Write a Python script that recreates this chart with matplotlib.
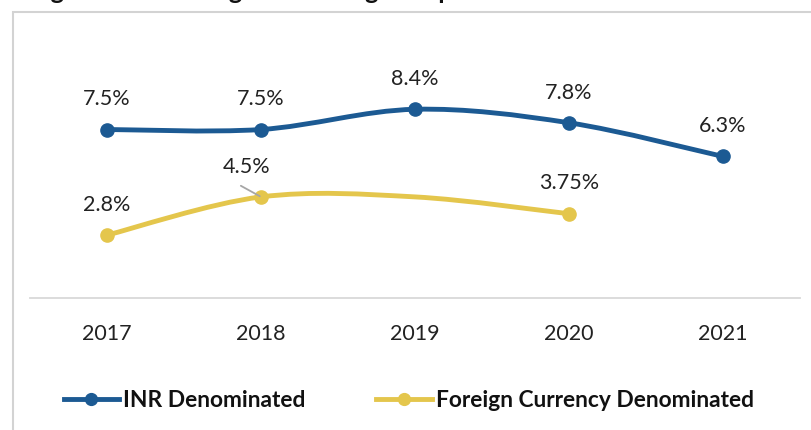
import numpy as np
import matplotlib
matplotlib.use("Agg")
import matplotlib.pyplot as plt
from matplotlib.path import Path
from matplotlib.patches import PathPatch, Rectangle
from matplotlib.lines import Line2D

years = ["2017", "2018", "2019", "2020", "2021"]
inr_values = [7.5, 7.5, 8.4, 7.8, 6.3]
inr_labels = ["7.5%", "7.5%", "8.4%", "7.8%", "6.3%"]
fc_values = [2.8, 4.5, 4.5, 3.75]
fc_labels = ["2.8%", "4.5%", None, "3.75%"]
fc_marker_idx = [0, 1, 3]
series_names = ["INR Denominated", "Foreign Currency Denominated"]
title_text = "Figure 5: INR Weighted Average coupon of ECB issuances"

BLUE = "#1C5A93"
YELLOW = "#E4C64C"
FONT = ["Lato", "DejaVu Sans"]

plt.rcParams['font.family'] = FONT

fig = plt.figure(figsize=(8.11, 4.31), dpi=100)
W, H = 811, 431

# outer chart border
fig.patches.append(Rectangle((13 / W, -0.1), 1.2, (H - 13) / H + 0.1,
                             transform=fig.transFigure, fill=False,
                             edgecolor="#D3D3D3", linewidth=1.5))

fig.text(30 / W, (H + 0.5) / H, title_text, fontsize=18, fontweight="bold",
         ha="left", va="baseline", color="#111111")

ax = fig.add_axes([30 / W, (H - 299) / H, 770 / W, (299 - 29.4) / H])
ax.set_xlim(-0.5, 4.5)
ax.set_ylim(0, 12)
for s in ["top", "right", "left"]:
    ax.spines[s].set_visible(False)
ax.spines["bottom"].set_color("#D9D9D9")
ax.spines["bottom"].set_linewidth(1.3)
ax.set_yticks([])
ax.set_xticks(range(len(years)))
ax.set_xticklabels(years, fontsize=15.5, color="#222222")
ax.tick_params(axis="x", length=0, pad=18)


def smooth_path(xs, ys):
    pts = np.column_stack([xs, ys]).astype(float)
    n = len(pts)
    verts = [pts[0]]
    codes = [Path.MOVETO]
    for i in range(n - 1):
        p0 = pts[i - 1] if i > 0 else pts[i]
        p1 = pts[i]
        p2 = pts[i + 1]
        p3 = pts[i + 2] if i + 2 < n else pts[i + 1]
        c1 = p1 + (p2 - p0) / 6.0
        c2 = p2 - (p3 - p1) / 6.0
        verts += [c1, c2, p2]
        codes += [Path.CURVE4] * 3
    return Path(verts, codes)


def draw_series(xs, ys, color, midx):
    patch = PathPatch(smooth_path(xs, ys), facecolor="none", edgecolor=color,
                      linewidth=3.5, capstyle="round", joinstyle="round", zorder=3)
    ax.add_patch(patch)
    ax.plot([xs[i] for i in midx], [ys[i] for i in midx], "o", color=color,
            markersize=9.5, zorder=4)


x_inr = list(range(len(inr_values)))
x_fc = list(range(len(fc_values)))
draw_series(x_inr, inr_values, BLUE, range(len(inr_values)))
draw_series(x_fc, fc_values, YELLOW, fc_marker_idx)

for x, y, lab in zip(x_inr, inr_values, inr_labels):
    ax.annotate(lab, (x, y), xytext=(0, 22.5), textcoords="offset points",
                ha="center", va="center", fontsize=15.5, color="#222222", zorder=5)

for x, y, lab in zip(x_fc, fc_values, fc_labels):
    if lab is None:
        continue
    if lab == "4.5%":
        ax.annotate(lab, (x, y), xytext=(-10.5, 22.5), textcoords="offset points",
                    ha="center", va="center", fontsize=15.5, color="#222222",
                    zorder=5)
        ax.annotate("", (x, y), xytext=(-14.5, 8), textcoords="offset points",
                    arrowprops=dict(arrowstyle="-", color="#A6A6A6", lw=1.3,
                                    shrinkA=0, shrinkB=1), zorder=5)
    else:
        ax.annotate(lab, (x, y), xytext=(0, 22.5), textcoords="offset points",
                    ha="center", va="center", fontsize=15.5, color="#222222", zorder=5)

handles = [Line2D([], [], color=BLUE, lw=3.5, marker="o", markersize=8.5),
           Line2D([], [], color=YELLOW, lw=3.5, marker="o", markersize=8.5)]
leg = fig.legend(handles, series_names, loc="center left",
                 bbox_to_anchor=(43 / W, (H - 401) / H), ncol=2, frameon=False,
                 handlelength=2.45, handletextpad=0.18, columnspacing=3.1,
                 prop={"family": FONT, "weight": "bold", "size": 16.4})
for t in leg.get_texts():
    t.set_color("#111111")

fig.savefig("out.png", dpi=100)
